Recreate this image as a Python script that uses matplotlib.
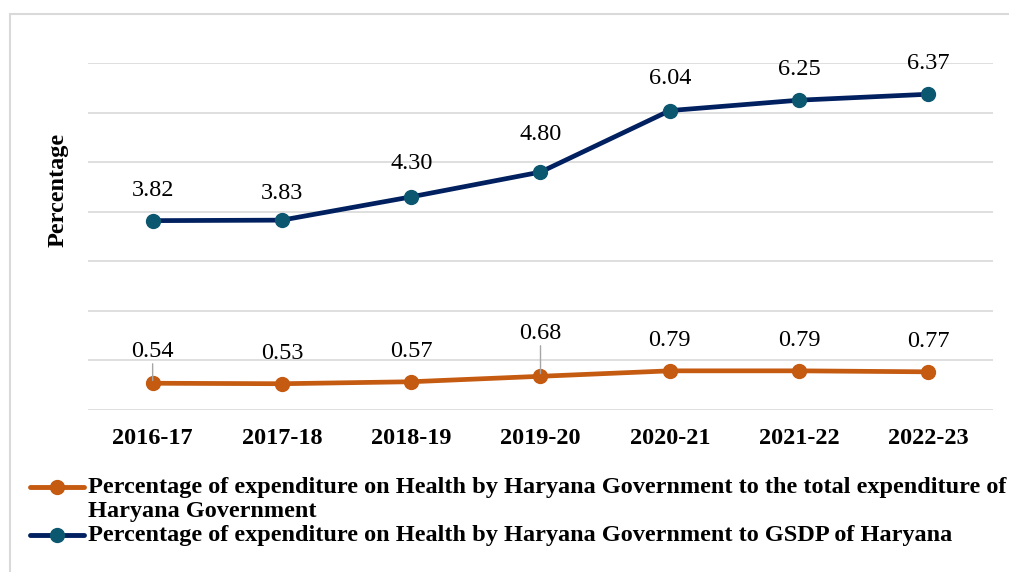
from matplotlib import pyplot as plt
from matplotlib.lines import Line2D
from matplotlib.patches import Rectangle

years = ['2016-17', '2017-18', '2018-19', '2019-20', '2020-21', '2021-22', '2022-23']
pct_total_exp = [0.54, 0.53, 0.57, 0.68, 0.79, 0.79, 0.77]
pct_gsdp = [3.82, 3.83, 4.30, 4.80, 6.04, 6.25, 6.37]

label_total = ['Percentage of expenditure on Health by Haryana Government to the total expenditure of',
               'Haryana Government']
label_gsdp = ['Percentage of expenditure on Health by Haryana Government to GSDP of Haryana']

# label offsets in points above each point
off_total = [23, 22, 22, 31, 22, 22, 22]
off_gsdp = [22, 19, 24, 27, 23, 22, 22]

orange = '#C55A11'
navy = '#002060'
teal = '#0C5770'
grid = '#D9D9D9'

plt.rcParams['font.family'] = ['Liberation Serif', 'DejaVu Serif']

fig = plt.figure(figsize=(10.09, 5.72), dpi=100)
ax = fig.add_axes([88 / 1009, 1 - 410 / 572, 905 / 1009, 347 / 572])

x = list(range(len(years)))
ax.plot(x, pct_total_exp, color=orange, lw=3.4, marker='o', ms=10,
        markerfacecolor=orange, markeredgecolor=orange, solid_capstyle='round', zorder=3)
ax.plot(x, pct_gsdp, color=navy, lw=3.4, marker='o', ms=10,
        markerfacecolor=teal, markeredgecolor=teal, solid_capstyle='round', zorder=3)

for xi, v, dy in zip(x, pct_total_exp, off_total):
    ax.annotate(f'{v:.2f}', (xi, v), xytext=(0, dy), textcoords='offset points',
                ha='center', va='center', fontsize=17.5)
    # leader lines where the label sits away from the point
    if xi in (0, 3):
        ax.annotate('', (xi, v), xytext=(0, dy - 9), textcoords='offset points',
                    arrowprops=dict(arrowstyle='-', color='#A6A6A6', lw=1, shrinkA=0, shrinkB=2))
for xi, v, dy in zip(x, pct_gsdp, off_gsdp):
    ax.annotate(f'{v:.2f}', (xi, v), xytext=(0, dy), textcoords='offset points',
                ha='center', va='center', fontsize=17.5)

ax.set_xlim(-0.5, 6.5)
ax.set_ylim(0, 7)
ax.set_yticks(range(0, 8))
ax.set_yticklabels([])
ax.tick_params(axis='y', length=0)
ax.tick_params(axis='x', length=0, pad=13)
ax.set_xticks(x)
ax.set_xticklabels(years, fontsize=17.5, fontweight='bold')
ax.grid(axis='y', color=grid, lw=1.2)
ax.set_axisbelow(True)
for s in ax.spines.values():
    s.set_visible(False)

fig.text(58 / 1009, 1 - 190 / 572, 'Percentage', rotation=90, ha='center', va='center',
         fontsize=17.5, fontweight='bold')

# legend drawn by hand
for y, col, mcol, lines in [(487, orange, orange, label_total), (535, navy, teal, label_gsdp)]:
    yf = 1 - y / 572
    fig.add_artist(Line2D([30 / 1009, 84 / 1009], [yf, yf], color=col, lw=3.5,
                          solid_capstyle='round'))
    fig.add_artist(Line2D([57 / 1009], [yf], marker='o', ms=10, color=mcol))
    for i, line in enumerate(lines):
        fig.text(88 / 1009, 1 - (y + 25 * i) / 572, line, ha='left', va='center',
                 fontsize=17.5, fontweight='bold')

fig.add_artist(Rectangle((10 / 1009, -0.01), 1.1, 1 - 14 / 572 + 0.01, transform=fig.transFigure,
                         fill=False, edgecolor='#D9D9D9', lw=1.5))

fig.savefig('out.png', dpi=100)
